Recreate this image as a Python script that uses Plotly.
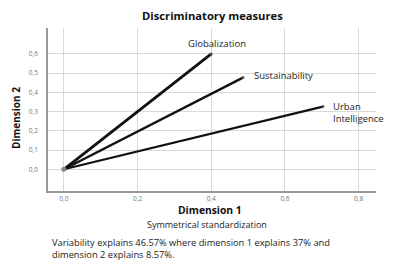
import plotly.graph_objects as go

variables = ["Globalization", "Sustainability", "Urban Intelligence"]
dim1 = [0.40, 0.486, 0.703]
dim2 = [0.60, 0.477, 0.326]
labels = ["Globalization", "Sustainability", "Urban<br>Intelligence"]
widths = [2.8, 2.4, 2.2]
x_ticks = [0.0, 0.2, 0.4, 0.6, 0.8]
x_tick_text = ["0,0", "0,2", "0,4", "0,6", "0,8"]
y_ticks = [0.0, 0.1, 0.2, 0.3, 0.4, 0.5, 0.6]
y_tick_text = ["0,0", "0,1", "0,2", "0,3", "0,4", "0,5", "0,6"]

FONT = "Open Sans"
fig = go.Figure()
for v, x, y, w in zip(variables, dim1, dim2, widths):
    fig.add_trace(go.Scatter(x=[0, x], y=[0, y], mode="lines", name=v,
                             line=dict(color="#111111", width=w), showlegend=False))
fig.add_trace(go.Scatter(x=dim1, y=dim2, mode="markers", showlegend=False,
                         marker=dict(color="#555555", size=3)))
fig.add_trace(go.Scatter(x=[0], y=[0], mode="markers", showlegend=False,
                         marker=dict(color="#888888", size=5)))

# labels
lab_font = dict(family=FONT, size=9.5, color="#222")
fig.add_annotation(x=dim1[0], y=dim2[0], text=labels[0], showarrow=False,
                   xanchor="center", yanchor="middle", yshift=10, xshift=6,
                   font=lab_font)
fig.add_annotation(x=dim1[1], y=dim2[1], text=labels[1], showarrow=False,
                   xanchor="left", yanchor="middle", xshift=9, yshift=2,
                   font=lab_font)
fig.add_annotation(x=dim1[2], y=dim2[2], text=labels[2], showarrow=False,
                   xanchor="left", yanchor="middle", xshift=8, yshift=-6, align="left",
                   font=lab_font)

tick_font = dict(family=FONT, size=6.5, color="#777")
fig.update_layout(
    width=408, height=274,
    margin=dict(l=40, r=40, t=20, b=91),
    paper_bgcolor="white", plot_bgcolor="white",
    title=dict(text="<b>Discriminatory measures</b>", x=0.501, xanchor="center",
               y=0.971, yanchor="middle", font=dict(family=FONT, size=11.2, color="#111")),
    xaxis=dict(range=[-0.043, 0.847], tickvals=x_ticks, ticktext=x_tick_text,
               showgrid=True, gridcolor="#d9d9d9", gridwidth=1, zeroline=False,
               showline=True, linecolor="#999999", linewidth=1.5, ticks="", ticklen=0,
               tickfont=tick_font),
    yaxis=dict(range=[-0.113, 0.735], tickvals=y_ticks, ticktext=y_tick_text,
               showgrid=True, gridcolor="#d9d9d9", gridwidth=1, zeroline=False,
               showline=True, linecolor="#999999", linewidth=1.5, ticks="",
               ticklabelstandoff=7, tickfont=tick_font),
)

fig.add_annotation(xref="paper", yref="paper", x=0.495, y=-0.117, yanchor="middle",
                   text="<b>Dimension 1</b>", showarrow=False, borderpad=0, borderwidth=0,
                   font=dict(family=FONT, size=10.3, color="#111"))
fig.add_annotation(xref="paper", x=-0.0976, yref="paper", y=0.448, textangle=-90,
                   xanchor="center", yanchor="middle",
                   text="<b>Dimension 2</b>", showarrow=False,
                   font=dict(family=FONT, size=10, color="#111"))
fig.add_annotation(xref="paper", yref="paper", x=0.486, y=-0.203, yanchor="middle",
                   text="Symmetrical standardization", showarrow=False,
                   borderpad=0, borderwidth=0,
                   font=dict(family=FONT, size=9, color="#222"))
fig.add_annotation(xref="paper", yref="paper", x=0.005, y=-0.355, yanchor="middle",
                   xanchor="left", align="left",
                   text="Variability explains 46.57% where dimension 1 explains 37% and<br>dimension 2 explains 8.57%.",
                   showarrow=False,
                   font=dict(family=FONT, size=9.3, color="#222"))

fig.write_html("out.html")
